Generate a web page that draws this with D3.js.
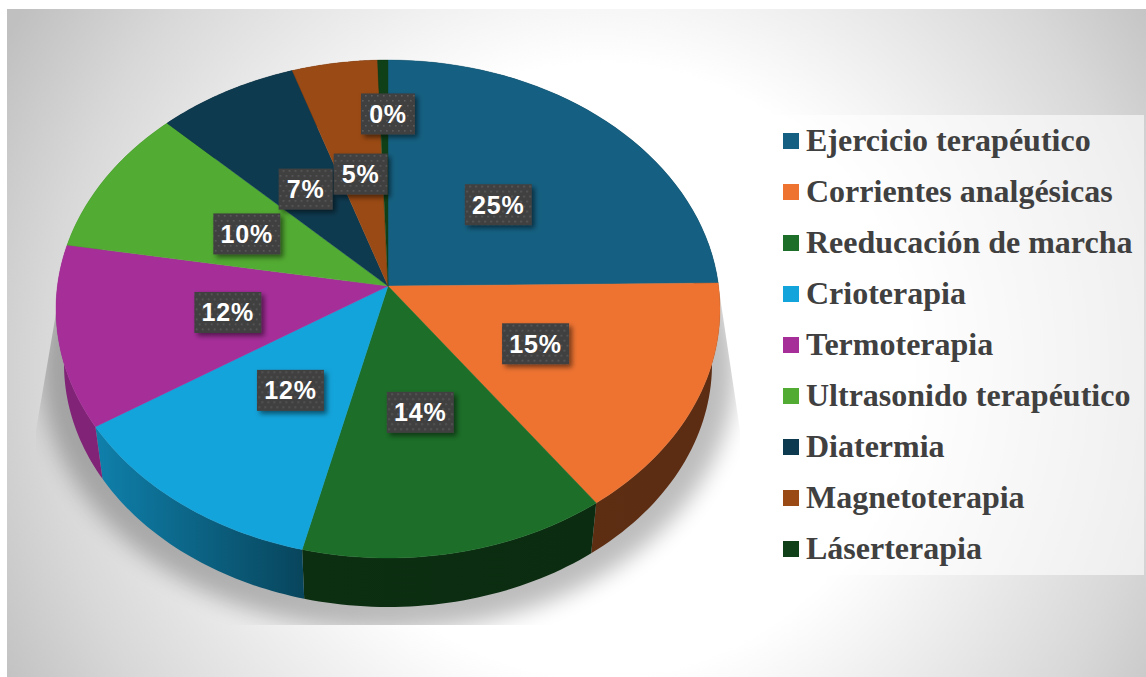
<!DOCTYPE html>
<html><head><meta charset="utf-8">
<script src="https://cdn.jsdelivr.net/npm/d3@7/dist/d3.min.js"></script>
<style>html,body{margin:0;padding:0;background:#fff;overflow:hidden}svg{display:block}</style>
</head><body><svg id="c" width="1146" height="677"></svg>
<script>
const categories = ["Ejercicio terapéutico","Corrientes analgésicas","Reeducación de marcha","Crioterapia","Termoterapia","Ultrasonido terapéutico","Diatermia","Magnetoterapia","Láserterapia"];
const values = [24.8,15.3,13.7,12.1,11.8,9.7,7.5,4.55,0.55];
const labels = ["25%","15%","14%","12%","12%","10%","7%","5%","0%"];
const colors = ["#156082","#ee7331","#1c6e28","#13a4db","#a62e99","#52ab32","#0e3a4f","#9a4a14","#104018"];

const svg = d3.select("#c");
const defs = svg.append("defs");

// background
const bg = defs.append("radialGradient").attr("id","bg").attr("gradientUnits","userSpaceOnUse")
  .attr("cx",600).attr("cy",370).attr("r",680);
[[0,"#ffffff"],[.45,"#ffffff"],[.6,"#efefef"],[.82,"#d8d8d8"],[1,"#c0c0c0"]].forEach(s=>bg.append("stop").attr("offset",s[0]).attr("stop-color",s[1]));
svg.append("rect").attr("x",7).attr("y",9).attr("width",1139).attr("height",668).attr("fill","url(#bg)");

// filters and patterns
const sb = defs.append("filter").attr("id","sb").attr("x","-20%").attr("y","-20%").attr("width","140%").attr("height","140%");
sb.append("feGaussianBlur").attr("stdDeviation",11);
const ds = defs.append("filter").attr("id","ds").attr("x","-30%").attr("y","-30%").attr("width","170%").attr("height","170%");
ds.append("feDropShadow").attr("dx",3).attr("dy",3).attr("stdDeviation",2.5).attr("flood-color","#000").attr("flood-opacity",.5);
const dots = defs.append("pattern").attr("id","dots").attr("patternUnits","userSpaceOnUse").attr("width",6).attr("height",10);
dots.append("rect").attr("width",6).attr("height",10).attr("fill","#404040");
[[1,1],[4,6]].forEach(p=>dots.append("rect").attr("x",p[0]).attr("y",p[1]).attr("width",1.6).attr("height",1.6).attr("fill","#5c5c5c"));

// projection of a circular pie on the tilted disc
const a = 0.092;
const topDisc = {cx:388, cy:309, rx:332, ry:249};
const baseDisc = {cx:388, cy:364, rx:324, ry:243};
const project = (theta, disc, r=1) => {
  const s = r*Math.cos(theta), x = r*Math.sin(theta), d = 1 + a*s;
  return [disc.cx + disc.rx*x*Math.sqrt(1-a*a)/d, disc.cy - disc.ry*(s+a)/d];
};
const arcs = d3.pie().sort(null).value(d=>d)(values);
const line = d3.line();
const samples = (d, disc) => d3.range(0,41).map(i=>project(d.startAngle+(d.endAngle-d.startAngle)*i/40, disc));
const apex = project(0, topDisc, 0);

// shadow
defs.append("clipPath").attr("id","sc").append("path").attr("d", line([[60,290],[36,430],[36,625],[740,625],[740,430],[716,270]])+"Z");
svg.append("g").attr("clip-path","url(#sc)").append("ellipse")
  .attr("cx",388).attr("cy",369).attr("rx",347).attr("ry",262).attr("fill","#000").attr("opacity",.26).attr("filter","url(#sb)");

// side wall
const shade = d3.scaleLinear().domain([70,103,303,800]).range([.78,.78,.42,.38]).clamp(true);
const dark = (c,k)=>{const o=d3.rgb(c);return d3.rgb(o.r*k,o.g*k,o.b*k).formatHex();};
const side = svg.append("g");
arcs.forEach((d,i)=>{
  const t = samples(d,topDisc), b = samples(d,baseDisc);
  const xs = t.concat(b).map(p=>p[0]);
  const g = defs.append("linearGradient").attr("id","side"+i).attr("gradientUnits","userSpaceOnUse")
    .attr("x1",d3.min(xs)).attr("x2",d3.max(xs)).attr("y1",0).attr("y2",0);
  g.append("stop").attr("offset",0).attr("stop-color",dark(colors[i],shade(d3.min(xs))));
  g.append("stop").attr("offset",1).attr("stop-color",dark(colors[i],shade(d3.max(xs))));
  side.append("path").attr("d",line(t.concat(b.reverse()))+"Z").attr("fill",`url(#side${i})`);
});

// top face
svg.append("g").selectAll("path").data(arcs).join("path")
  .attr("d",d=>line([apex].concat(samples(d,topDisc)))+"Z")
  .attr("fill",(d,i)=>colors[i]).attr("stroke",(d,i)=>colors[i]).attr("stroke-width",.4);

// data labels
const lh = 41;
const lw = i => labels[i].length===3 ? 67 : 54;
const lab = svg.append("g").selectAll("g").data(arcs).join("g")
  .attr("transform",d=>{
    const tiny = d.value<1;
    const p = tiny ? project(d.endAngle, topDisc, .745) : project((d.startAngle+d.endAngle)/2, topDisc, .49);
    return `translate(${p[0]},${p[1]+(tiny?0:2)})`;
  });
lab.append("rect").attr("x",(d,i)=>-lw(i)/2).attr("y",-lh/2).attr("width",(d,i)=>lw(i)).attr("height",lh).attr("fill","url(#dots)").attr("filter","url(#ds)");
lab.append("text").attr("text-anchor","middle").attr("y",9).attr("fill","#fff")
  .attr("font-family","'Liberation Sans',Arial,sans-serif").attr("font-weight","bold").attr("font-size",25).attr("letter-spacing",.8)
  .text((d,i)=>labels[i]);

// legend
svg.append("rect").attr("x",769).attr("y",115).attr("width",375).attr("height",460).attr("fill","#fff").attr("opacity",.6);
const ly = d3.scalePoint().domain(categories).range([141,549]);
const leg = svg.append("g").selectAll("g").data(categories).join("g").attr("transform",d=>`translate(783,${ly(d)})`);
leg.append("rect").attr("x",0).attr("y",-8).attr("width",16).attr("height",16).attr("fill",(d,i)=>colors[i]);
leg.append("text").attr("x",23).attr("y",10).attr("fill","#404040")
  .attr("font-family","'Liberation Serif','Times New Roman',serif").attr("font-weight","bold").attr("font-size",32)
  .text(d=>d);
</script></body></html>
